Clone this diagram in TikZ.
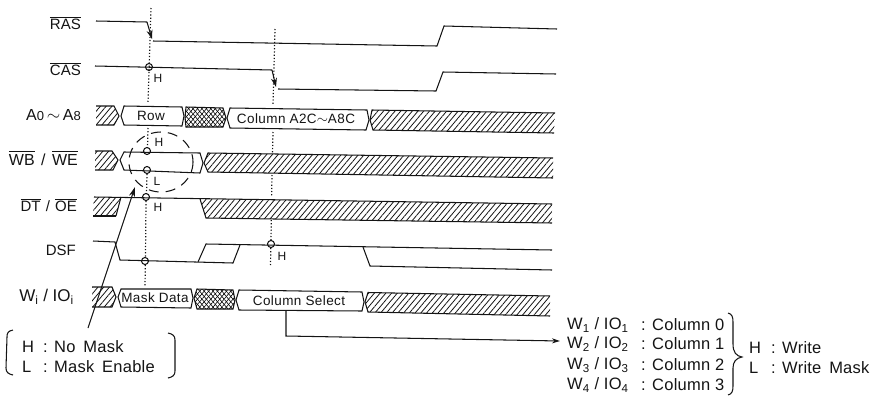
\documentclass[tikz,border=0pt]{standalone}
\usepackage{fontspec}
\setmainfont{Liberation Sans}
\usepackage{amsmath}
\usepackage{xcolor}
\definecolor{inkblack}{RGB}{20,20,20}
\usetikzlibrary{arrows.meta, patterns.meta}
\tikzset{
  sigline/.style={inkblack, line width=1.05pt},
  hatchfill/.style={pattern={Lines[angle=50,distance=4.4pt,line width=0.8pt]}, pattern color=inkblack},
  crossfill/.style={pattern={Lines[angle=50,distance=3.4pt,line width=0.6pt]}},
  crossfillb/.style={pattern={Lines[angle=-50,distance=3.4pt,line width=0.6pt]}},
  probe/.style={inkblack, dotted, line width=1.2pt},
  dotmark/.style={inkblack, line width=1.05pt},
  siglabel/.style={font=\fontsize{15}{15}\selectfont, inner sep=0pt, anchor=east, inkblack},
  levellabel/.style={font=\fontsize{12}{12}\selectfont, inner sep=0pt, inkblack},
  buslabel/.style={font=\fontsize{13.5}{14}\selectfont\addfontfeatures{LetterSpace=3}, inner sep=0pt, inkblack},
  notelabel/.style={font=\fontsize{16.5}{17}\selectfont\addfontfeatures{LetterSpace=1.5}, inner sep=0pt, anchor=west, inkblack},
}
\newcommand{\barsig}[1]{$\overline{\mbox{#1}}$}
\begin{document}
\begin{tikzpicture}[x=1pt, y=-1pt]
\useasboundingbox (0,0) rectangle (878,397);

% === Signal names ===
\node[siglabel] (ras) at (81,23) {\barsig{RAS}};
\node[siglabel] (cas) at (81,69) {\barsig{CAS}};
\node[siglabel, font=\fontsize{16}{16}\selectfont] (addr) at (81,115) {A{\fontsize{13}{13}\selectfont 0}\,$\sim$\,A{\fontsize{13}{13}\selectfont 8}};
\node[siglabel, font=\fontsize{16}{16}\selectfont] (wbwe) at (78,158) {\barsig{WB}\hspace{2pt} / \hspace{2pt}\barsig{WE}};
\node[siglabel, font=\fontsize{15}{16}\selectfont] (dtoe) at (77,205) {\barsig{DT}\hspace{1pt} / \hspace{1pt}\barsig{OE}};
\node[siglabel] (dsf) at (76,250) {DSF};
\node[siglabel, font=\fontsize{17}{17}\selectfont] (wio) at (74,297) {W\textsubscript{i} / IO\textsubscript{i}};

% === Probe lines ===
\draw[probe] (151,8) -- (148,103);
\draw[probe] (148,128) -- (147.5,148);
\draw[probe] (147,174) -- (146.5,194);
\draw[probe] (146,201) -- (145.5,257);
\draw[probe] (145.3,265) -- (145,287);
\draw[probe] (275,29) -- (273,105);
\draw[probe] (273,132) -- (272.5,153);
\draw[probe] (272,175) -- (271.6,197);
\draw[probe] (271.3,220) -- (271,240);
\draw[probe] (270.8,248) -- (270.5,265);

% RAS
\draw[sigline] (96,21) -- (147,22);
\draw[sigline, -{Stealth[length=9pt,width=6pt]}] (147,22) -- (152,39);
\draw[sigline] (153,41) -- (437,46) -- (444,26) -- (557,29);

% CAS
\draw[sigline] (95,66) -- (272,70);
\draw[sigline, -{Stealth[length=9pt,width=6pt]}] (272,70) -- (276,87);
\draw[sigline] (278,89) -- (436,91) -- (443,72) -- (556,74);

% === A0~A8 ===
\fill[hatchfill] (96,106) -- (114,106) -- (119,116) -- (114,125) -- (96,125) -- cycle;
\draw[sigline] (96,106) -- (114,106) -- (119,116) -- (114,125) -- (96,125);
\draw[sigline] (121,116) -- (124,106) -- (182,107) -- (184,116) -- (182,126) -- (124,125) -- cycle;
\fill[crossfill] (186,107) -- (223,108) -- (226,118) -- (223,127) -- (186,127) -- (185,117) -- cycle;
\fill[crossfillb] (186,107) -- (223,108) -- (226,118) -- (223,127) -- (186,127) -- (185,117) -- cycle;
\draw[sigline] (186,107) -- (223,108) -- (226,118) -- (223,127) -- (186,127) -- (185,117) -- cycle;
\draw[sigline] (227,118) -- (230,108) -- (367,110) -- (369,120) -- (366,130) -- (230,128) -- cycle;
\fill[hatchfill] (372,110) -- (555,113) -- (554,133) -- (373,130) -- (370,120) -- cycle;
\draw[sigline] (555,113) -- (372,110) -- (370,120) -- (373,130) -- (554,133);
\node[buslabel] (rowtxt) at (151,116) {Row};
\node[buslabel] (coltxt) at (296,119) {Column A2C$\sim$A8C};

% === WB / WE ===
\fill[hatchfill] (95,151) -- (112,151) -- (118,160) -- (113,170) -- (95,170) -- cycle;
\draw[sigline] (95,151) -- (112,151) -- (118,160) -- (113,170) -- (95,170);
\draw[sigline] (120,160) -- (124,152) -- (200,153) -- (203,163) -- (200,173) -- (124,170) -- cycle;
\fill[hatchfill] (208,153) -- (553,158) -- (553,178) -- (208,172) -- (204,163) -- cycle;
\draw[sigline] (553,158) -- (208,153) -- (204,163) -- (208,172) -- (553,178);
\draw[inkblack, line width=1.05pt, dash pattern=on 10pt off 7pt] (161,162) ellipse [x radius=32, y radius=30];
\draw[dotmark] (147,151) circle (3.5);
\draw[dotmark] (147,170) circle (3.5);
\node[levellabel] (wbh) at (159,142) {H};
\node[levellabel] (wbl) at (157,181) {L};

% === DT / OE ===
\fill[hatchfill] (94,197) -- (121,197) -- (116,216) -- (93,216) -- cycle;
\draw[sigline] (116,216) -- (93,216);
\draw[sigline] (116,216) -- (121,197);
\fill[hatchfill] (200,199) -- (552,204) -- (552,223) -- (206,218) -- cycle;
\draw[sigline] (94,197) -- (552,204);
\draw[sigline] (200,199) -- (206,218) -- (552,223);
\draw[dotmark] (146,197) circle (3.5);
\node[levellabel] (dth) at (158,207) {H};

% === DSF ===
\draw[sigline] (93,241) -- (115,242) -- (120,260) -- (233,263) -- (240,245);
\draw[sigline] (198,262) -- (206,244) -- (552,250);
\draw[sigline] (363,247) -- (370,266) -- (552,270);
\draw[dotmark] (145,261) circle (3.5);
\draw[dotmark] (271,244) circle (3.5);
\node[levellabel] (dsfh) at (282,256) {H};

% CAS level and strobe marks
\draw[dotmark] (149,67) circle (3.5);
\node[levellabel] (cash) at (158,78) {H};

% === Wi / IOi ===
\fill[hatchfill] (92,287) -- (112,287) -- (116,297) -- (112,307) -- (92,307) -- cycle;
\draw[sigline] (92,287) -- (112,287) -- (116,297) -- (112,307) -- (92,307);
\draw[sigline] (118,297) -- (121,289) -- (191,289) -- (193,298) -- (191,308) -- (121,307) -- cycle;
\fill[crossfill] (197,289) -- (233,290) -- (235,300) -- (233,309) -- (197,309) -- (194,298) -- cycle;
\fill[crossfillb] (197,289) -- (233,290) -- (235,300) -- (233,309) -- (197,309) -- (194,298) -- cycle;
\draw[sigline] (197,289) -- (233,290) -- (235,300) -- (233,309) -- (197,309) -- (194,298) -- cycle;
\draw[sigline] (236,300) -- (239,290) -- (362,292) -- (364,302) -- (362,311) -- (239,310) -- cycle;
\fill[hatchfill] (368,292.5) -- (550,296) -- (550,316) -- (368,312) -- (365,302) -- cycle;
\draw[sigline] (550,296) -- (368,292.5) -- (365,302) -- (368,312) -- (550,316);
\node[buslabel] (masktxt) at (155,298) {Mask Data};
\node[buslabel] (seltxt) at (299,301) {Column Select};

% Column select pointer
\coordinate (selstart) at (286,311);
\coordinate (selend) at (560,341);
\draw[sigline, -{Stealth[length=8pt,width=5pt]}] (selstart) -- (286,336) -- (selend);

% Mask pointer
\coordinate (masktail) at (88,328);
\coordinate (masktip) at (135,187);
\draw[sigline, -{Stealth[length=10pt,width=6pt]}] (masktail) -- (masktip);

% === Left note ===
\draw[sigline] (13,330) .. controls (8,331) and (7,333) .. (7,337) -- (6,368) .. controls (6,372) and (8,374) .. (13,375);
\draw[sigline] (168,333) .. controls (173,334) and (175,336) .. (175,340) -- (175,371) .. controls (175,375) and (173,377) .. (168,378);
\node[notelabel] (noteh) at (22,347) {H};
\node[notelabel] (notehtxt) at (43,347) {: No\hspace{3pt} Mask};
\node[notelabel] (notel) at (22,367) {L};
\node[notelabel] (noteltxt) at (43,367) {: Mask\hspace{3pt} Enable};

% === Right note ===
\foreach \y/\n in {325/1, 344/2, 365/3, 385/4} {
    \node[notelabel] (wnum\n) at (567,\y) {W\textsubscript{\n} / IO\textsubscript{\n}};
}
\foreach \y/\n in {325/0, 344/1, 365/2, 385/3} {
    \node[notelabel] (colnum\n) at (641,\y) {: Column \n};
}
\draw[sigline] (728,313) .. controls (732,314) and (733,317) .. (733,322) -- (733,344) .. controls (733,352) and (736,356) .. (742,357) .. controls (736,358) and (733,362) .. (733,368) -- (733,386) .. controls (733,391) and (732,394) .. (728,395);
\node[notelabel] (writeh) at (749,348) {H};
\node[notelabel] (writehtxt) at (771,348) {: Write};
\node[notelabel] (writel) at (749,368) {L};
\node[notelabel] (writeltxt) at (771,368) {: Write\hspace{3pt} Mask};

\end{tikzpicture}
\end{document}
